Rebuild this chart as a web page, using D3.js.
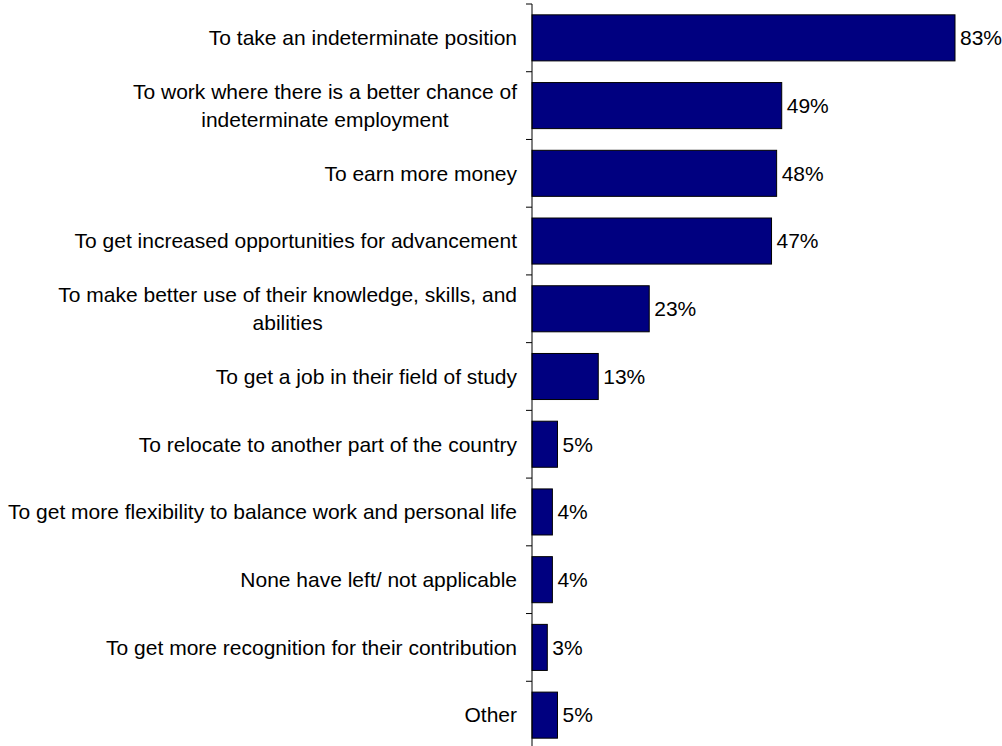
<!DOCTYPE html>
<html>
<head>
<meta charset="utf-8">
<script src="https://cdn.jsdelivr.net/npm/d3@7/dist/d3.min.js"></script>
<style>
  html, body { margin: 0; padding: 0; background: #fff; }
  svg text { font-family: "Liberation Sans", Arial, sans-serif; font-size: 21px; fill: #000; }
</style>
</head>
<body>
<svg id="chart" width="1002" height="746"></svg>
<script>
// Reasons for leaving (percent of respondents)
const categories = [
  ["To take an indeterminate position"],
  ["To work where there is a better chance of", "indeterminate employment"],
  ["To earn more money"],
  ["To get increased opportunities for advancement"],
  ["To make better use of their knowledge, skills, and", "abilities"],
  ["To get a job in their field of study"],
  ["To relocate to another part of the country"],
  ["To get more flexibility to balance work and personal life"],
  ["None have left/ not applicable"],
  ["To get more recognition for their contribution"],
  ["Other"]
];
const values = [83, 49, 48, 47, 23, 13, 5, 4, 4, 3, 5];
const valueLabels = ["83%", "49%", "48%", "47%", "23%", "13%", "5%", "4%", "4%", "3%", "5%"];

const svg = d3.select("#chart");
const axisX = 532;
const labelRight = 517;

const x = d3.scaleLinear().domain([0, 83]).range([axisX, 955]);
const y = d3.scaleBand()
  .domain(d3.range(categories.length))
  .range([4, 749])
  .paddingInner(0.32)
  .paddingOuter(0.16);

// Bars
svg.append("g").selectAll("rect")
  .data(values)
  .join("rect")
  .attr("x", x(0))
  .attr("y", (d, i) => y(i))
  .attr("width", d => x(d) - x(0))
  .attr("height", y.bandwidth())
  .attr("fill", "#000080")
  .attr("stroke", "#000")
  .attr("stroke-width", 1);

// Value labels
svg.append("g").selectAll("text")
  .data(values)
  .join("text")
  .attr("x", d => x(d) + 5)
  .attr("y", (d, i) => y(i) + y.bandwidth() / 2)
  .attr("dy", "0.35em")
  .text((d, i) => valueLabels[i]);

// Category axis line with ticks between categories
const bounds = d3.range(categories.length + 1).map(i => 4 + i * (745 / categories.length));
const axisG = svg.append("g");
axisG.append("line")
  .attr("x1", axisX).attr("x2", axisX)
  .attr("y1", bounds[0]).attr("y2", bounds[bounds.length - 1])
  .attr("stroke", "#000").attr("stroke-width", 1);
axisG.selectAll("line.tick")
  .data(bounds)
  .join("line")
  .attr("class", "tick")
  .attr("x1", axisX - 6).attr("x2", axisX)
  .attr("y1", d => d).attr("y2", d => d)
  .attr("stroke", "#000").attr("stroke-width", 1);

// Category labels: centred text block, right edge aligned near the axis
const lineGap = 28;
const labelG = svg.append("g");
categories.forEach((lines, i) => {
  const cy = y(i) + y.bandwidth() / 2;
  const t = labelG.append("text").attr("text-anchor", "middle");
  lines.forEach((ln, k) => {
    t.append("tspan")
      .attr("x", 0)
      .attr("y", cy + (k - (lines.length - 1) / 2) * lineGap)
      .attr("dy", "0.35em")
      .text(ln);
  });
  const widths = t.selectAll("tspan").nodes().map(n => n.getComputedTextLength());
  const maxW = d3.max(widths);
  t.selectAll("tspan").attr("x", labelRight - maxW / 2);
});
</script>
</body>
</html>
